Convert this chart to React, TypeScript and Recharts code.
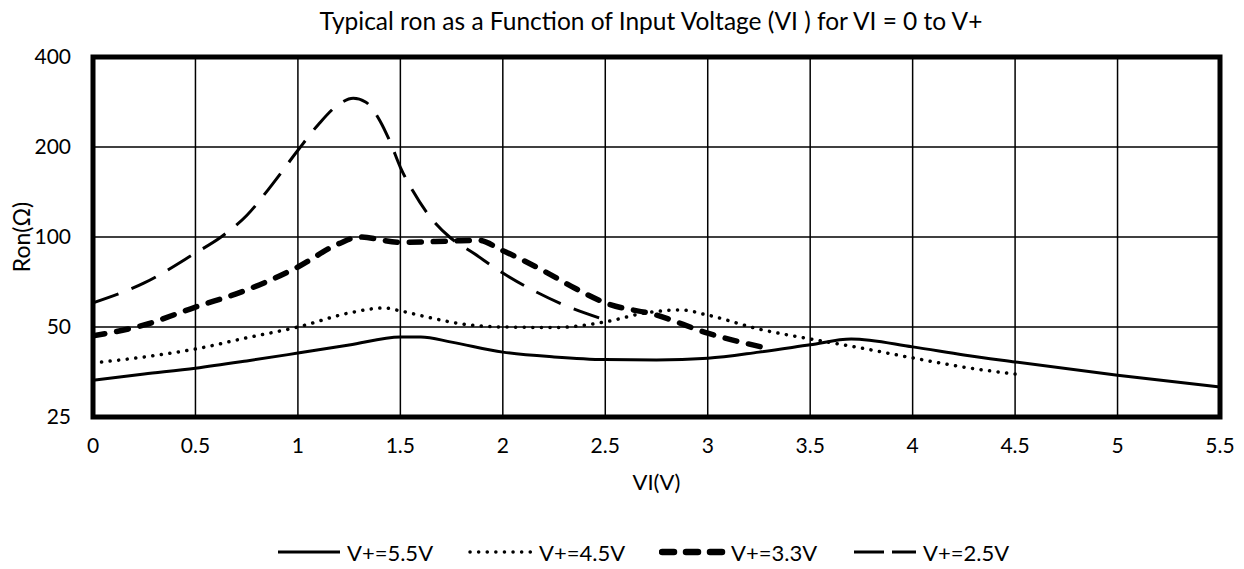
import React from "react";
import {
  LineChart,
  Line,
  CartesianGrid,
  XAxis,
  YAxis,
  ReferenceArea,
} from "recharts";

// values (VI in volts, Ron in ohms)
const vi55 = [0, 0.25, 0.5, 0.75, 1, 1.25, 1.5, 1.6, 1.75, 2, 2.25, 2.5, 2.75, 3, 3.25, 3.5, 3.7, 4, 4.25, 4.5, 5, 5.5];
const ron55 = [33.2, 34.8, 36.4, 38.5, 40.9, 43.5, 46.3, 46.3, 44.5, 41.2, 39.7, 38.9, 38.8, 39.3, 41.2, 43.6, 45.6, 42.9, 40.3, 38.2, 34.5, 31.5];

const vi45 = [0, 0.25, 0.5, 0.75, 1, 1.25, 1.42, 1.5, 1.65, 1.8, 2, 2.25, 2.5, 2.7, 2.87, 3, 3.25, 3.5, 3.75, 4, 4.25, 4.5];
const ron45 = [37.9, 39.7, 42.2, 46, 50, 55.7, 57.9, 56.6, 53.6, 51.2, 50, 49.8, 52, 55.8, 57, 54.8, 49.2, 45.6, 42.5, 39.4, 36.7, 34.8];

const vi33 = [0, 0.25, 0.5, 0.75, 1, 1.2, 1.3, 1.5, 1.75, 1.88, 2, 2.2, 2.35, 2.5, 2.75, 3, 3.3];
const ron33 = [46.7, 50.8, 58.3, 66.5, 79.4, 95, 100, 96, 97, 97.5, 90, 77, 67.5, 60.2, 54.8, 47.7, 42.3];

const vi25 = [0, 0.25, 0.5, 0.625, 0.75, 0.875, 1, 1.1, 1.2, 1.27, 1.33, 1.4, 1.45, 1.5, 1.56, 1.64, 1.74, 1.86, 2, 2.28, 2.5];
const ron25 = [60.2, 70.2, 88.4, 100, 118, 150, 195, 238, 278, 291, 283, 245, 208, 171, 143, 118, 100, 88, 75.8, 60, 52.8];

const xTicks = [0, 0.5, 1, 1.5, 2, 2.5, 3, 3.5, 4, 4.5, 5, 5.5];
const yTicks = [25, 50, 100, 200, 400];

const FONT = "Lato, 'Open Sans', sans-serif";

const series = [
  { name: "V+=5.5V", vi: vi55, ron: ron55, width: 3, dash: undefined as string | undefined, cap: "butt" as const },
  { name: "V+=4.5V", vi: vi45, ron: ron45, width: 3.5, dash: "0.1 8.5", cap: "round" as const },
  { name: "V+=3.3V", vi: vi33, ron: ron33, width: 5.5, dash: "12 12", cap: "round" as const },
  { name: "V+=2.5V", vi: vi25, ron: ron25, width: 3, dash: "27 14", cap: "butt" as const },
];

function toRows(xs: number[], ys: number[]) {
  return xs.map((x, i) => ({ vi: x, ron: ys[i] }));
}

function YLabel(props: any) {
  const vb = props.viewBox || {};
  const cx = 21;
  const cy = vb.y + vb.height / 2;
  return (
    <text
      x={cx}
      y={cy}
      transform={`rotate(-90, ${cx}, ${cy})`}
      textAnchor="middle"
      dominantBaseline="central"
      fontSize={23}
      fontFamily={FONT}
      fill="#000"
    >
      Ron(Ω)
    </text>
  );
}

export default function App() {
  return (
    <div
      style={{
        position: "absolute",
        left: 0,
        top: 0,
        width: 1244,
        height: 569,
        background: "#fff",
        fontFamily: FONT,
      }}
    >
      <div
        style={{
          position: "absolute",
          left: 80,
          width: 1142,
          top: 6,
          textAlign: "center",
          fontSize: 24.5,
          lineHeight: "30px",
          color: "#000",
        }}
      >
        Typical ron as a Function of Input Voltage (VI ) for VI = 0 to V+
      </div>

      <LineChart width={1244} height={569} margin={{ top: 57, right: 24, bottom: 0, left: 0 }}>
        <CartesianGrid stroke="#000" strokeWidth={1.5} />
        <XAxis
          dataKey="vi"
          type="number"
          domain={[0, 5.5]}
          ticks={xTicks}
          height={152}
          tickLine={false}
          axisLine={false}
          tickSize={0}
          tickMargin={21}
          tick={{ fontSize: 21, fill: "#000", fontFamily: FONT }}
          label={{ value: "VI(V)", position: "insideTop", offset: 57, fontSize: 22, fill: "#000", fontFamily: FONT }}
          allowDataOverflow
        />
        <YAxis
          type="number"
          scale="log"
          domain={[25, 400]}
          ticks={yTicks}
          width={93}
          tickLine={false}
          axisLine={false}
          tickSize={0}
          tickMargin={22}
          tick={{ fontSize: 21, fill: "#000", fontFamily: FONT }}
          label={<YLabel />}
          allowDataOverflow
        />
        {series.map((s) => (
          <Line
            key={s.name}
            data={toRows(s.vi, s.ron)}
            dataKey="ron"
            name={s.name}
            type="monotone"
            stroke="#000"
            strokeWidth={s.width}
            strokeDasharray={s.dash}
            strokeLinecap={s.cap}
            dot={false}
            activeDot={false}
            isAnimationActive={false}
          />
        ))}
        <ReferenceArea x1={0} x2={5.5} y1={25} y2={400} fill="none" stroke="#000" strokeWidth={5} />
      </LineChart>

      <div
        style={{
          position: "absolute",
          left: 275,
          top: 538,
          height: 28,
          display: "flex",
          alignItems: "center",
          fontSize: 22,
          color: "#000",
        }}
      >
        {series.map((s, i) => (
          <div key={s.name} style={{ display: "flex", alignItems: "center", marginRight: i < 3 ? 34 : 0 }}>
            <svg width={68} height={12} style={{ marginRight: 4 }}>
              <line
                x1={3}
                y1={6}
                x2={65}
                y2={6}
                stroke="#000"
                strokeWidth={s.width === 5.5 ? 6.5 : s.width}
                strokeDasharray={s.dash === "27 14" ? "30 8" : s.dash}
                strokeLinecap={s.cap}
              />
            </svg>
            <span>{s.name}</span>
          </div>
        ))}
      </div>
    </div>
  );
}
